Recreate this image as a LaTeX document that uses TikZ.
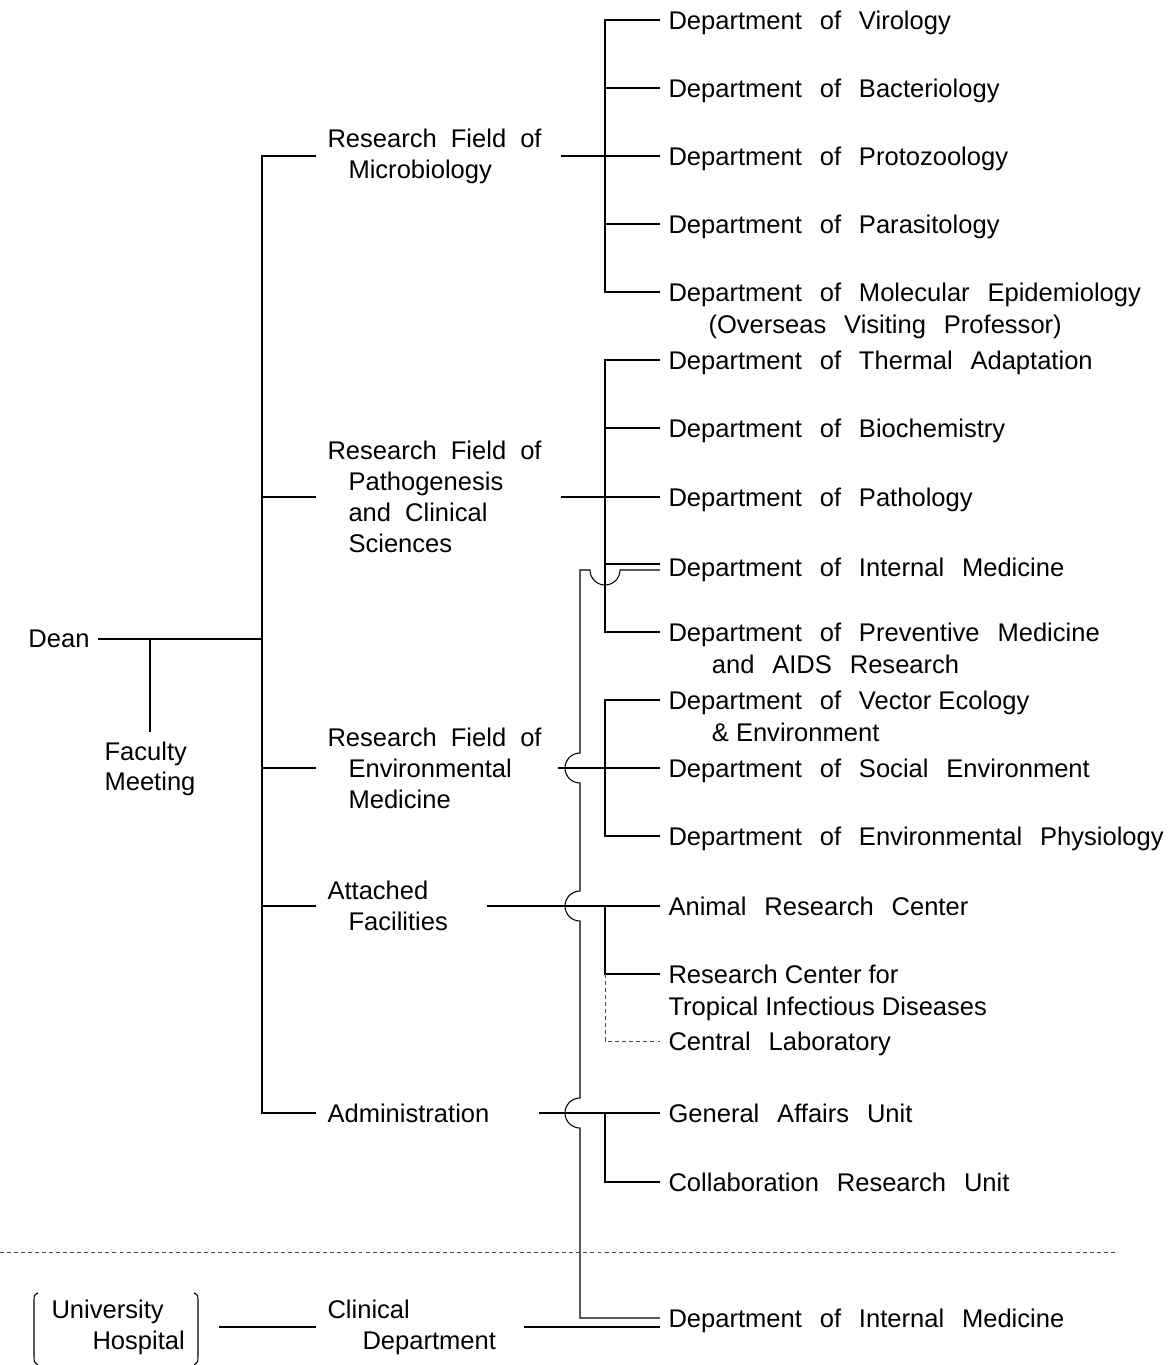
\documentclass[tikz,border=0pt]{standalone}
\usepackage{fontspec}
\setmainfont{Liberation Sans}
\usetikzlibrary{positioning}

\newcommand{\fldfont}{\fontsize{21.8pt}{26.4pt}\selectfont\spaceskip 0.55em\relax}
\newcommand{\dptfont}{\fontsize{21.8pt}{27.2pt}\selectfont\spaceskip 0.7em\relax}
\newcommand{\tightfont}{\fontsize{21.8pt}{27.2pt}\selectfont}
\newcommand{\twoline}[2]{\vtop{\hbox{#1}\hbox{#2}}}

\tikzset{
  fld/.style={anchor=west, align=left, inner xsep=0.33cm, inner ysep=0pt, font=\fldfont},
  dpt/.style={anchor=west, inner xsep=0.24cm, inner ysep=0pt,
    text height=16pt, text depth=0pt, font=\dptfont},
  tight/.style={font=\tightfont},
  dots/.style={dash pattern=on 3.4pt off 2.6pt}
}

\begin{document}
\begin{tikzpicture}[x=0.03cm, y=-0.03cm, line width=0.9pt]
        \useasboundingbox (0,0) rectangle (1173,1365);

        % dean and faculty meeting
        \node [fld, anchor=east, inner xsep=0.24cm] (dean) at (98,639) {Dean};
        \node [fld, anchor=north, inner xsep=0pt] (fac) at (150,741) {Faculty\\Meeting};

        % research fields
        \node [fld] (mic) at (316,156) {Research Field of\\\hspace*{0.63cm}Microbiology};
        \node [fld] (pth) at (316,497) {Research Field of\\\hspace*{0.63cm}Pathogenesis\\\hspace*{0.63cm}and Clinical\\\hspace*{0.63cm}Sciences};
        \node [fld] (evm) at (316,768) {Research Field of\\\hspace*{0.63cm}Environmental\\\hspace*{0.63cm}Medicine};
        \node [fld] (att) at (316,906) {Attached\\\hspace*{0.63cm}Facilities};
        \node [fld] (adm) at (316,1113) {Administration};
        \node [fld] (uh) at (40,1327) {University\\\hspace*{1.23cm}Hospital};
        \node [fld] (cln) at (316,1327) {Clinical\\\hspace*{1.05cm}Department};

        % departments
        \node [dpt] (vir) at (660,20) {Department of Virology};
        \node [dpt] (bac) at (660,88) {Department of Bacteriology};
        \node [dpt] (pro) at (660,156) {Department of Protozoology};
        \node [dpt] (par) at (660,224) {Department of Parasitology};
        \node [dpt] (mol) at (660,292) {\twoline{Department of Molecular Epidemiology}{\hspace*{1.2cm}(Overseas Visiting Professor)}};
        \node [dpt] (the) at (660,360) {Department of Thermal Adaptation};
        \node [dpt] (bio) at (660,428) {Department of Biochemistry};
        \node [dpt] (pat) at (660,497) {Department of Pathology};
        \node [dpt] (inm) at (660,567) {Department of Internal Medicine};
        \node [dpt] (pre) at (660,632) {\twoline{Department of Preventive Medicine}{\hspace*{1.3cm}and AIDS Research}};
        \node [dpt] (vec) at (660,700) {\twoline{Department of Vector\hspace{0.278em}Ecology}{\hspace*{1.3cm}\&\hspace{0.278em}Environment}};
        \node [dpt] (soc) at (660,768) {Department of Social Environment};
        \node [dpt] (env) at (660,836) {Department of Environmental Physiology};
        \node [dpt] (ani) at (660,906) {Animal Research Center};
        \node [dpt, tight] (rct) at (660,974) {\twoline{Research Center for}{Tropical Infectious Diseases}};
        \node [dpt] (cen) at (660,1041) {Central Laboratory};
        \node [dpt] (gen) at (660,1113) {General Affairs Unit};
        \node [dpt] (col) at (660,1182) {Collaboration Research Unit};
        \node [dpt] (hin) at (660,1318) {Department of Internal Medicine};

        % dean, faculty meeting and main trunk
        \draw (dean.east) -- ++(164,0);
        \draw [shorten >=0.27cm] (dean.east -| fac.north) -- (fac.north);
        \draw (mic.west) -- ++(-54,0) |- (adm.west);
        \foreach \f in {pth,evm,att}
            \draw (\f.west) -- ++(-54,0);

        % microbiology
        \draw [shorten <=0.25cm] (mic.east) -- (mic.east -| pro.west);
        \draw (vir.west) -- ++(-55,0) |- (mol.west);
        \foreach \d in {bac,pro,par}
            \draw (\d.west) -- ++(-55,0);

        % pathogenesis and clinical sciences
        \draw [shorten <=0.25cm] (pth.east) -- (pth.east -| pat.west);
        \draw (the.west) -- ++(-55,0) |- (pre.west);
        \foreach \d in {bio,pat}
            \draw (\d.west) -- ++(-55,0);
        \draw ([yshift=0.09cm]inm.west) -- ++(-55,0);

        % environmental medicine
        \draw [shorten <=0.15cm] (evm.east) -- (evm.east -| soc.west);
        \draw (vec.west) -- ++(-55,0) |- (env.west);
        \draw (soc.west) -- ++(-55,0);

        % attached facilities
        \draw [shorten <=0.84cm] (att.east) -- (att.east -| ani.west);
        \draw (ani.west) -- ++(-55,0) |- (rct.west);
        \draw [dots, line width=0.7pt, black!70] (rct.west) ++(-55,0) |- (cen.west);

        % administration
        \draw [shorten <=1.15cm] (adm.east) -- (adm.east -| gen.west);
        \draw (gen.west) -- ++(-55,0) |- (col.west);

        % hospital line with hops
        \draw ([yshift=-0.09cm]inm.west) -- (620,570) arc [start angle=0, end angle=180, radius=15] -- (580,570)
            -- (580,753) arc [start angle=270, end angle=90, radius=15]
            -- (580,891) arc [start angle=270, end angle=90, radius=15]
            -- (580,1098) arc [start angle=270, end angle=90, radius=15]
            |- (hin.west);

        % university hospital
        \draw (38,1293) .. controls (34,1295) .. (34,1302) -- (34,1356) .. controls (34,1362) .. (38,1365);
        \draw (194,1293) .. controls (198,1295) .. (198,1302) -- (198,1356) .. controls (198,1362) .. (194,1365);
        \draw [shorten <=0.69cm] (uh.east) -- (uh.east -| cln.west);
        \draw [shorten <=0.5cm] (cln.east) -- (cln.east -| hin.west);

        \draw [dots, line width=0.7pt, black!70] (0,1252) -- (1115,1252);
\end{tikzpicture}
\end{document}
